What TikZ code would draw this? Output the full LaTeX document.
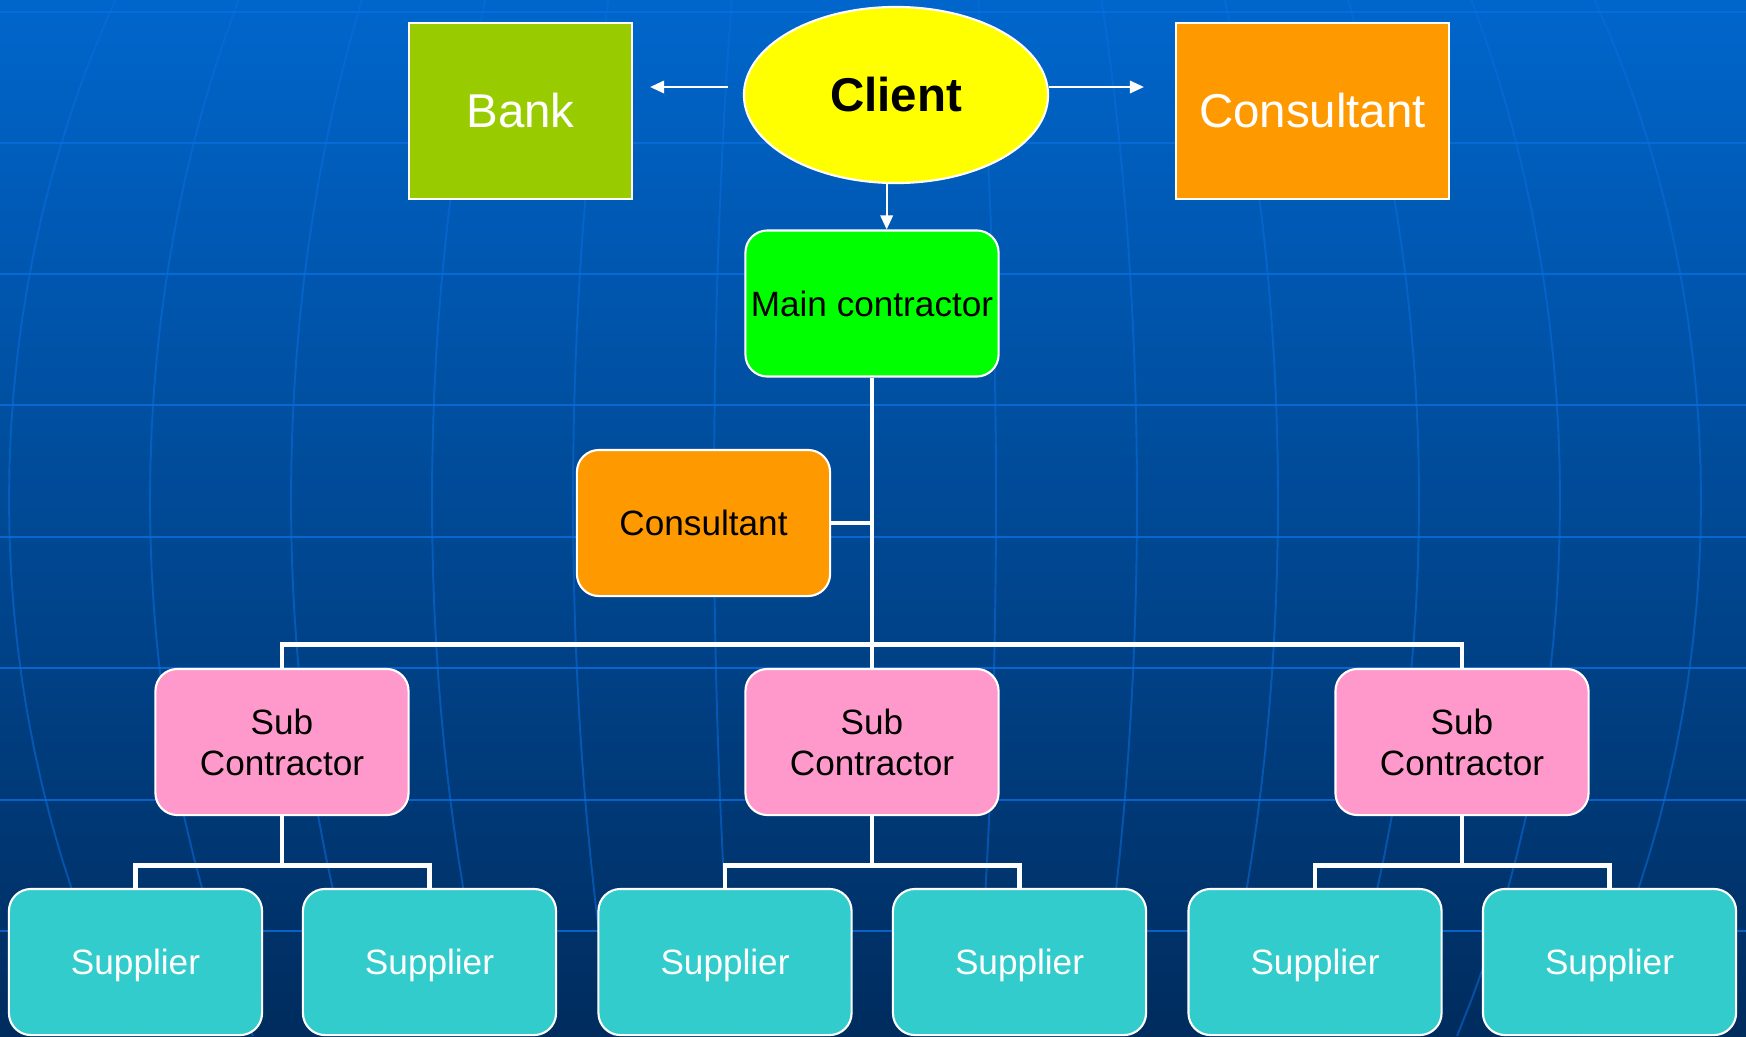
\documentclass[tikz,border=0pt]{standalone}
\usepackage{fontspec}
\setmainfont{Liberation Sans}
\usetikzlibrary{shapes.geometric,arrows.meta}
\definecolor{bgtop}{RGB}{0,102,204}
\definecolor{bgbottom}{RGB}{0,44,94}
\definecolor{gridblue}{RGB}{10,110,222}
\definecolor{bankgreen}{RGB}{153,204,0}
\definecolor{clientyellow}{RGB}{255,255,0}
\definecolor{consorange}{RGB}{255,153,0}
\definecolor{maingreen}{RGB}{0,255,0}
\definecolor{subpink}{RGB}{255,153,204}
\definecolor{supcyan}{RGB}{51,204,204}
\tikzset{
  box/.style={draw=white, line width=0.6pt, minimum width=2.53cm, minimum height=1.46cm,
    rounded corners=0.22cm, align=center, inner sep=0pt, text depth=0pt,
    font=\fontsize{10}{11.8}\selectfont},
  bigbox/.style={draw=white, line width=0.6pt, minimum height=1.76cm, inner sep=0pt,
    text=white, font=\fontsize{13.5}{16}\selectfont},
  link/.style={draw=white, line width=1.4pt},
  arr/.style={draw=white, line width=0.5pt, -{Triangle[length=4pt,width=3.6pt]}},
  gridline/.style={draw=gridblue, line width=0.55pt}
}
\begin{document}
\begin{tikzpicture}[x=0.01cm, y=-0.01cm]
\useasboundingbox (0,0) rectangle (1746,1036);
\fill[top color=bgtop, bottom color=bgbottom] (0,0) rectangle (1746,1036);
\foreach \y in {12,143,274,405,537,668,800,931}
  \draw[gridline, opacity=0.8] (0,\y) -- (1746,\y);
\foreach \s in {-846,-705,-564,-423,-282,-141,141,282,423,564,705,846}
  \draw[gridline, opacity=0.55] plot[domain=0:1036, samples=30] ({855+\s*sqrt(1-((\x-500)/1030)^2)},\x);

\node[bigbox, fill=bankgreen, minimum width=2.23cm] (bank) at (520.5,111) {Bank};
\node[ellipse, draw=white, line width=0.6pt, fill=clientyellow, minimum width=3.04cm, minimum height=1.76cm,
  inner sep=0pt, font=\fontsize{13.5}{16}\selectfont\bfseries] (client) at (896,95) {Client};
\node[bigbox, fill=consorange, minimum width=2.73cm] (constop) at (1312.5,111) {Consultant};
\node[box, fill=maingreen] (main) at (872,303.5) {Main contractor};
\node[box, fill=consorange] (consmid) at (703.5,523) {Consultant};
\node[box, fill=subpink] (sub1) at (282,742) {Sub\\Contractor};
\node[box, fill=subpink] (sub2) at (872,742) {Sub\\Contractor};
\node[box, fill=subpink] (sub3) at (1462,742) {Sub\\Contractor};
\node[box, fill=supcyan, text=white] (sup1) at (135.5,962) {Supplier};
\node[box, fill=supcyan, text=white] (sup2) at (429.5,962) {Supplier};
\node[box, fill=supcyan, text=white] (sup3) at (725,962) {Supplier};
\node[box, fill=supcyan, text=white] (sup4) at (1019.5,962) {Supplier};
\node[box, fill=supcyan, text=white] (sup5) at (1315,962) {Supplier};
\node[box, fill=supcyan, text=white] (sup6) at (1609.5,962) {Supplier};

\draw[arr, shorten <=0.15cm, shorten >=0.17cm] (client.177) -- (bank.east |- client.177);
\draw[arr, shorten >=0.31cm] (client.3) -- (constop.west |- client.3);
\draw[arr] (client.264) -- (client.264 |- main.north);

\draw[link] (main.south) -- (sub2.north);
\draw[link] (sub1.north) -- ++(0,-23) -| (sub3.north);
\draw[link] (consmid.east) -- (consmid.east -| main.south);
\draw[link] (sub1.south) -- ++(0,49) -| (sup1.north);
\draw[link] (sub1.south) -- ++(0,49) -| (sup2.north);
\draw[link] (sub2.south) -- ++(0,49) -| (sup3.north);
\draw[link] (sub2.south) -- ++(0,49) -| (sup4.north);
\draw[link] (sub3.south) -- ++(0,49) -| (sup5.north);
\draw[link] (sub3.south) -- ++(0,49) -| (sup6.north);
\end{tikzpicture}
\end{document}
